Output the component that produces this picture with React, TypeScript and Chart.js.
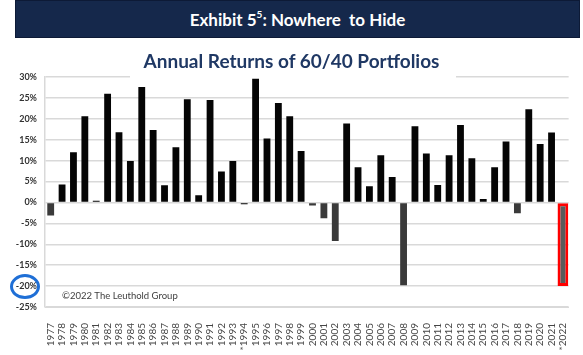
import React, { useEffect, useRef } from "react";
import { Chart, registerables } from "chart.js";

Chart.register(...registerables);

const years = [
  "1977", "1978", "1979", "1980", "1981", "1982", "1983", "1984", "1985", "1986",
  "1987", "1988", "1989", "1990", "1991", "1992", "1993", "*1994", "1995", "1996",
  "1997", "1998", "1999", "2000", "2001", "2002", "2003", "2004", "2005", "2006",
  "2007", "2008", "2009", "2010", "2011", "2012", "2013", "2014", "2015", "2016",
  "2017", "2018", "2019", "2020", "2021", "*2022",
];

const returns = [
  -3.1, 4.3, 12.0, 20.6, 0.4, 26.0, 16.8, 9.9, 27.6, 17.3,
  4.1, 13.2, 24.7, 1.7, 24.5, 7.4, 9.9, -0.4, 29.6, 15.3,
  23.8, 20.6, 12.3, -0.7, -3.8, -9.2, 18.9, 8.4, 3.9, 11.3,
  6.1, -19.8, 18.2, 11.7, 4.2, 11.3, 18.5, 10.6, 0.8, 8.4,
  14.6, -2.6, 22.3, 14.0, 16.7, -20.0,
];

const highlightYear = "*2022";
const yTicksMin = -25;
const yTicksMax = 30;
const yStep = 5;

const FONT = "Lato, 'Liberation Sans', Arial, sans-serif";

export default function App() {
  const ref = useRef<HTMLCanvasElement | null>(null);

  useEffect(() => {
    if (!ref.current) return;
    const mainData = returns.map((v, i) => (years[i] === highlightYear ? null : v));
    const hiData = returns.map((v, i) => (years[i] === highlightYear ? v : null));

    const extras = {
      id: "extras",
      beforeDatasetsDraw(chart: any) {
        const { ctx, chartArea } = chart;
        ctx.save();
        ctx.fillStyle = "#ffffff";
        ctx.fillRect(130, chartArea.top - 3, 326, 5);
        ctx.restore();
      },
      afterDraw(chart: any) {
        const { ctx, chartArea, scales } = chart;
        const y = scales.y;
        ctx.save();
        ctx.fillStyle = "#404040";
        ctx.font = `9.5px ${FONT}`;
        ctx.textBaseline = "middle";
        ctx.textAlign = "left";
        ctx.fillText("\u00A92022 The Leuthold Group", chartArea.left + 17, y.getPixelForValue(-22.4));
        ctx.strokeStyle = "#1f6fd6";
        ctx.lineWidth = 3;
        ctx.beginPath();
        ctx.ellipse(25, y.getPixelForValue(-20) + 0.5, 13.5, 11, 0, 0, Math.PI * 2);
        ctx.stroke();
        ctx.restore();
      },
    };

    const chart = new Chart(ref.current, {
      type: "bar",
      data: {
        labels: years,
        datasets: [
          {
            data: mainData as any,
            backgroundColor: returns.map((v) => (v < -0.5 ? "#3a3a3a" : "#050505")),
            barPercentage: 0.6,
            categoryPercentage: 1,
            grouped: false,
          } as any,
          {
            data: hiData as any,
            backgroundColor: "#5a5a5a",
            borderColor: "#ff0000",
            borderWidth: 3,
            borderSkipped: false,
            barPercentage: 0.95,
            categoryPercentage: 1,
            grouped: false,
          } as any,
        ],
      },
      options: {
        responsive: false,
        animation: false,
        devicePixelRatio: 1,
        layout: { padding: { top: 77, right: 6, left: 0, bottom: 0 } },
        plugins: { legend: { display: false }, tooltip: { enabled: false }, title: { display: false } },
        scales: {
          x: {
            grid: { display: false },
            border: { display: true, color: "#d9d9d9" },
            ticks: {
              autoSkip: false,
              maxRotation: 90,
              minRotation: 90,
              font: { family: FONT, size: 10 },
              color: "#454545",
              padding: 8,
            },
            afterFit: (s: any) => {
              s.height = 48;
            },
          },
          y: {
            min: yTicksMin,
            max: yTicksMax,
            ticks: {
              stepSize: yStep,
              callback: (v: any) => `${v}%`,
              font: { family: FONT, size: 9, weight: "bold" },
              color: "#333333",
              padding: 8,
            },
            grid: { color: "#d9d9d9", drawTicks: false, lineWidth: 1.5 },
            border: { color: "#d9d9d9", width: 1.5 },
            afterFit: (s: any) => {
              s.width = 45;
            },
          },
        },
      },
      plugins: [extras],
    } as any);
    return () => chart.destroy();
  }, []);

  return (
    <div style={{ position: "fixed", left: 0, top: 0, width: 583, height: 355, background: "#fff", overflow: "hidden" }}>
      <canvas ref={ref} width={583} height={355} style={{ position: "absolute", left: 0, top: 0, width: 583, height: 355 }} />
      <div
        style={{
          position: "absolute",
          left: 15,
          top: 0,
          width: 563,
          height: 36,
          background: "#15284b",
          border: "1px solid #0d1a36",
          color: "#fff",
          fontFamily: FONT,
          fontWeight: 700,
          fontSize: 17,
          display: "flex",
          alignItems: "center",
          justifyContent: "center",
        }}
      >
        <span>
          Exhibit 5<sup style={{ fontSize: 10, position: "relative", top: -1 }}>5</sup>: Nowhere&nbsp; to Hide
        </span>
      </div>
      <div
        style={{
          position: "absolute",
          left: 0,
          top: 49,
          width: 583,
          textAlign: "center",
          color: "#1f3864",
          fontFamily: FONT,
          fontWeight: 700,
          fontSize: 19,
          lineHeight: "24px",
        }}
      >
        Annual Returns of 60/40 Portfolios
      </div>
    </div>
  );
}
